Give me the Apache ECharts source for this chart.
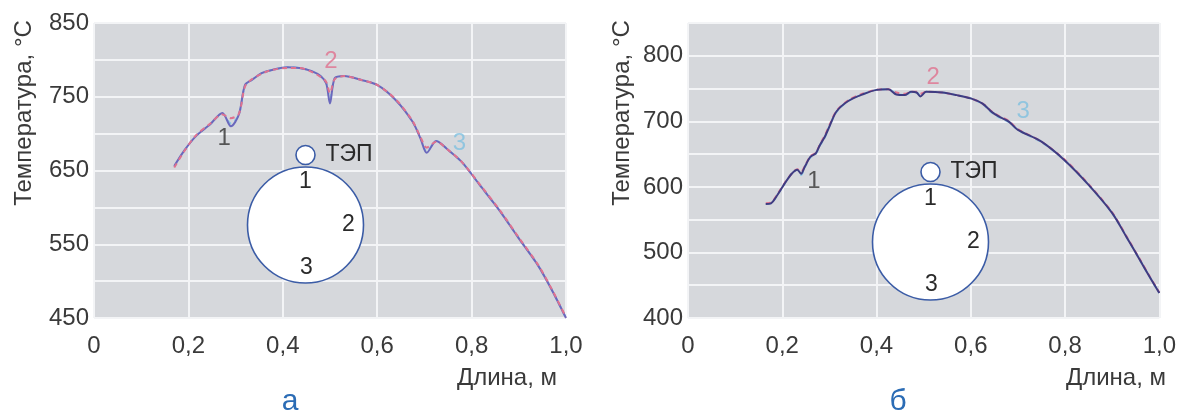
<!DOCTYPE html>
<html><head><meta charset="utf-8">
<script src="https://cdn.jsdelivr.net/npm/echarts@6/dist/echarts.min.js"></script>
<style>html,body{margin:0;padding:0;background:#fff}#c{width:1179px;height:416px}</style>
</head><body><div id="c"></div>
<script>
// ---- Panel а ----
const lenA = [0.17,0.19,0.215,0.245,0.272,0.29,0.307,0.32,0.335,0.355,0.375,0.41,0.435,0.46,0.48,0.492,0.50,0.51,0.53,0.565,0.60,0.64,0.675,0.692,0.705,0.725,0.75,0.78,0.82,0.86,0.90,0.94,0.97,1.0];
const tA1 = [656,676,696,712,728,710,726,766,773,782,786,790,789,785,778,768,741,775,778,773,766,745,716,693,674,690,678,661,628,595,558,522,488,450];
const tA2 = [654,675,697,713,726,721,727,764,774,781,786,789,789,784,777,770,755,774,778,773,766,746,717,695,681,689,678,661,629,596,559,523,489,451];
const tA3 = [655,676,696,712,727,714,726,765,773,782,786,790,789,785,778,769,748,775,778,773,766,745,716,694,676,690,678,661,628,595,558,522,488,450];
// ---- Panel б ----
const lenB = [0.165,0.176,0.19,0.205,0.22,0.232,0.24,0.248,0.26,0.271,0.28,0.29,0.30,0.315,0.34,0.37,0.40,0.425,0.442,0.46,0.473,0.485,0.493,0.505,0.54,0.57,0.60,0.625,0.645,0.66,0.68,0.70,0.75,0.80,0.85,0.90,0.93,0.96,0.98,1.0];
const tB1 = [574,575,588,605,620,626,620,631,646,651,664,676,692,715,731,741,748,749,741,740,745,744,738,745,744,740,735,727,714,707,700,687,669,640,603,560,524,487,462,438];
const tB2 = [575,576,589,606,620,627,623,632,647,652,665,678,694,716,732,742,748,749,744,742,745,745,742,745,744,740,735,727,715,708,701,688,669,641,604,561,525,488,463,439];
const tB3 = [574,575,588,605,620,626,618,630,645,650,663,675,692,714,731,741,748,749,742,740,744,744,739,745,744,740,735,726,713,706,699,687,668,640,603,560,524,487,462,438];
// curve labels: [x, T, text]
const labelsA = [[0.276,693,'1'],[0.502,798,'2'],[0.774,687,'3']];
const labelsB = [[0.267,608,'1'],[0.52,767,'2'],[0.711,715,'3']];

const FONT = 'Liberation Sans, Arial, sans-serif';
const C1A = '#6a68bd', C1B = '#3f3c82', C2 = '#e0728f', C3 = '#8cc8e6';
const labelColors = ['#333','#e0728f','#7fc0e0'];
const TXT = '#3a3a3a';

function pairs(xs, ys){ return xs.map((x,i)=>[x, ys[i]]); }

function xAxis(gi){
  return {gridIndex:gi, type:'value', min:0, max:1, interval:0.2,
    axisLine:{show:false}, axisTick:{show:false},
    splitLine:{show:true, lineStyle:{color:'#f3f4f6', width:2}},
    axisLabel:{margin:16, fontSize:24, color:TXT, fontFamily:FONT,
      formatter:v=> v===0 ? '0' : v.toFixed(1).replace('.', ',')}};
}
function yAxis(gi, min, max){
  return {gridIndex:gi, type:'value', min:min, max:max, interval:50,
    axisLine:{show:false}, axisTick:{show:false},
    splitLine:{show:true, lineStyle:{color:'#f3f4f6', width:2}},
    axisLabel:{margin:5, fontSize:24, color:TXT, fontFamily:FONT,
      formatter:v=> ((v-min)%100===0) ? String(v) : ''}};
}
function line(gi, xs, ys, color, type, z){
  return {type:'line', xAxisIndex:gi, yAxisIndex:gi, data:pairs(xs,ys), showSymbol:false,
    smooth:0.3, z:z, lineStyle:{color:color, width:2, type:type}, animation:false};
}
function labelSeries(gi, arr){
  return {type:'scatter', xAxisIndex:gi, yAxisIndex:gi, symbolSize:0, z:10, animation:false,
    data:arr.map((a,i)=>({value:[a[0],a[1]], label:{show:true, position:'inside', formatter:a[2],
      fontSize:24, fontFamily:FONT, color:labelColors[i]}}))};
}
function inset(cx, cy){
  return [
    {type:'circle', shape:{cx:cx, cy:cy+70, r:58}, style:{fill:'#fff', stroke:'#3b5ca6', lineWidth:1.6}, z:20},
    {type:'circle', shape:{cx:cx, cy:cy, r:9.5}, style:{fill:'#fff', stroke:'#3b5ca6', lineWidth:1.6}, z:21},
    {type:'text', x:cx+20, y:cy, style:{text:'ТЭП', fontSize:23, fontFamily:FONT, fill:'#2a2a2a', textVerticalAlign:'middle'}, z:22},
    {type:'text', x:cx, y:cy+27, style:{text:'1', fontSize:23, fontFamily:FONT, fill:'#2a2a2a', textAlign:'center', textVerticalAlign:'middle'}, z:22},
    {type:'text', x:cx+43, y:cy+70, style:{text:'2', fontSize:23, fontFamily:FONT, fill:'#2a2a2a', textAlign:'center', textVerticalAlign:'middle'}, z:22},
    {type:'text', x:cx+1, y:cy+113, style:{text:'3', fontSize:23, fontFamily:FONT, fill:'#2a2a2a', textAlign:'center', textVerticalAlign:'middle'}, z:22}
  ];
}
function texts(x0, xR, subX, sub){
  return [
    {type:'text', x:x0, y:113, rotation:Math.PI/2, style:{text:'Температура, °С', fontSize:24, fontFamily:FONT, fill:TXT, textAlign:'center', textVerticalAlign:'middle'}},
    {type:'text', x:xR, y:378, style:{text:'Длина, м', fontSize:24, fontFamily:FONT, fill:TXT, textAlign:'right', textVerticalAlign:'middle'}},
    {type:'text', x:subX, y:402, style:{text:sub, fontSize:30, fontFamily:FONT, fill:'#2b6cb5', textAlign:'center', textVerticalAlign:'middle'}}
  ];
}

const chart = echarts.init(document.getElementById('c'));
chart.setOption({
  backgroundColor:'#fff',
  animation:false,
  grid:[
    {left:94, top:23, width:472, height:295, show:true, backgroundColor:'#d6d8dc', borderWidth:0},
    {left:688, top:23, width:472, height:295, show:true, backgroundColor:'#d6d8dc', borderWidth:0}
  ],
  xAxis:[xAxis(0), xAxis(1)],
  yAxis:[yAxis(0,450,850), yAxis(1,400,850)],
  series:[
    line(0, lenA, tA3, C3, [5,4], 2),
    line(0, lenA, tA1, C1A, 'solid', 3),
    line(0, lenA, tA2, C2, [5,4], 4),
    labelSeries(0, labelsA),
    line(1, lenB, tB3, C3, [5,4], 2),
    line(1, lenB, tB2, C2, [5,4], 3),
    line(1, lenB, tB1, C1B, 'solid', 4),
    labelSeries(1, labelsB)
  ],
  graphic:[].concat(inset(305.5,155), inset(930.5,172), texts(24,557,290,'а'), texts(622,1166,898,'б'))
});
</script></body></html>
